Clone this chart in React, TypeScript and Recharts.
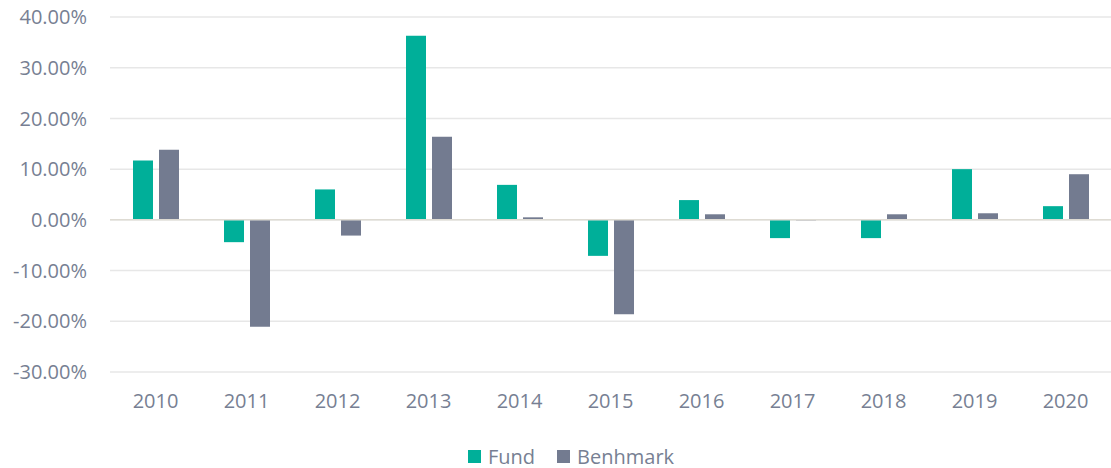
import React from 'react';
import {
  BarChart,
  Bar,
  XAxis,
  YAxis,
  CartesianGrid,
  Legend,
  ReferenceLine,
} from 'recharts';

const years = ['2010', '2011', '2012', '2013', '2014', '2015', '2016', '2017', '2018', '2019', '2020'];
const fund = [11.7, -4.4, 6.0, 36.3, 6.9, -7.1, 3.9, -3.6, -3.6, 10.0, 2.7];
const benchmark = [13.8, -21.1, -3.1, 16.4, 0.5, -18.6, 1.1, -0.1, 1.1, 1.3, 9.0];
const yTicks = [-30, -20, -10, 0, 10, 20, 30, 40];

const FUND_COLOR = '#00AF99';
const BENCH_COLOR = '#737B90';
const TEXT_COLOR = '#777F93';
const FONT = '"Open Sans", sans-serif';

const data = years.map((year, i) => ({ year, fund: fund[i], benchmark: benchmark[i] }));

// legende maison : carrés + libellés, un peu décalée comme dans l'original
function LegendContent() {
  const items = [
    { label: 'Fund', color: FUND_COLOR },
    { label: 'Benhmark', color: BENCH_COLOR },
  ];
  return (
    <div style={{ display: 'flex', alignItems: 'center', fontFamily: FONT, fontSize: 20, color: TEXT_COLOR }}>
      {items.map((it) => (
        <div key={it.label} style={{ display: 'flex', alignItems: 'center', marginRight: 22 }}>
          <span style={{ width: 13, height: 13, background: it.color, display: 'inline-block', marginRight: 7 }} />
          <span>{it.label}</span>
        </div>
      ))}
    </div>
  );
}

export default function App() {
  return (
    <div style={{ position: 'absolute', left: 0, top: 0, background: '#fff' }}>
      <BarChart
        width={1111}
        height={468}
        data={data}
        margin={{ top: 17, right: 0, left: 0, bottom: 29 }}
        barSize={20}
        barGap={6}
      >
        <CartesianGrid vertical={false} stroke="#E7E7E7" strokeWidth={1.5} />
        <XAxis
          dataKey="year"
          axisLine={false}
          tickLine={false}
          tickSize={0}
          tickMargin={22}
          interval={0}
          height={40}
          tick={{ fill: TEXT_COLOR, fontSize: 20, fontFamily: FONT }}
        />
        <YAxis
          domain={[-30, 40]}
          ticks={yTicks}
          interval={0}
          width={110}
          axisLine={false}
          tickLine={false}
          tickSize={0}
          tickMargin={23}
          tickFormatter={(v: number) => `${v.toFixed(2)}%`}
          tick={{ fill: TEXT_COLOR, fontSize: 20, fontFamily: FONT }}
        />
        <ReferenceLine y={0} stroke="#DEDBD3" strokeWidth={1.5} />
        <Legend
          content={<LegendContent />}
          wrapperStyle={{ left: 468, top: 443, width: 'auto', height: 'auto' }}
        />
        <Bar dataKey="fund" name="Fund" fill={FUND_COLOR} isAnimationActive={false} />
        <Bar dataKey="benchmark" name="Benhmark" fill={BENCH_COLOR} isAnimationActive={false} />
      </BarChart>
    </div>
  );
}
